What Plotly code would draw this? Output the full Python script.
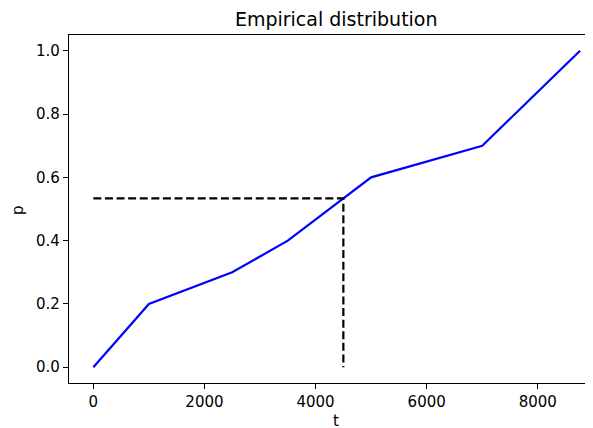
import plotly.graph_objects as go

t_vals = [0, 1000, 2500, 3500, 5000, 7000, 8760]
p_vals = [0.0, 0.2, 0.3, 0.4, 0.6, 0.7, 1.0]
t_mark = 4500
p_mark = 0.4 + (0.6 - 0.4) * (4500 - 3500) / (5000 - 3500)
x_ticks = [0, 2000, 4000, 6000, 8000]
y_ticks = [0.0, 0.2, 0.4, 0.6, 0.8, 1.0]

FONT = "DejaVu Sans"
fig = go.Figure()
fig.add_trace(go.Scatter(x=t_vals, y=p_vals, mode="lines",
                         line=dict(color="blue", width=2.2), showlegend=False))
fig.add_trace(go.Scatter(x=[0, t_mark, t_mark], y=[p_mark, p_mark, 0], mode="lines",
                         line=dict(color="black", width=2.2, dash="8px,3.6px"),
                         showlegend=False))

# page body has an 8px default margin, so the figure is 8px smaller and offset
fig.update_layout(
    width=585, height=420,
    margin=dict(l=60.5, r=0, t=26.5, b=45, autoexpand=False),
    paper_bgcolor="white", plot_bgcolor="white",
    font=dict(family=FONT, size=15, color="black"),
    title=dict(text="Empirical distribution", x=0.51, xref="paper", xanchor="center",
               y=0.974, yref="container", yanchor="middle", font=dict(size=19)),
    xaxis=dict(range=[-438, 8993], tickvals=x_ticks, ticktext=[str(v) for v in x_ticks],
               showgrid=False, zeroline=False, showline=True, linecolor="black",
               linewidth=1.2, mirror=True, ticks="outside", ticklen=5, tickwidth=1.2,
               tickcolor="black", automargin=False),
    yaxis=dict(range=[-0.05, 1.05], tickvals=y_ticks, ticktext=[f"{v:.1f}" for v in y_ticks],
               showgrid=False, zeroline=False, showline=True, linecolor="black",
               linewidth=1.2, mirror=False, ticks="outside", ticklen=5, tickwidth=1.2,
               tickcolor="black", automargin=False),
    annotations=[
        dict(text="t", xref="paper", yref="paper", x=0.51, y=-0.109,
             xanchor="center", yanchor="middle", showarrow=False, font=dict(size=15)),
        dict(text="p", xref="paper", yref="paper", x=-0.0963, y=0.496, textangle=-90,
             xanchor="center", yanchor="middle", showarrow=False, font=dict(size=15)),
    ],
)
fig.write_html("out.html")
